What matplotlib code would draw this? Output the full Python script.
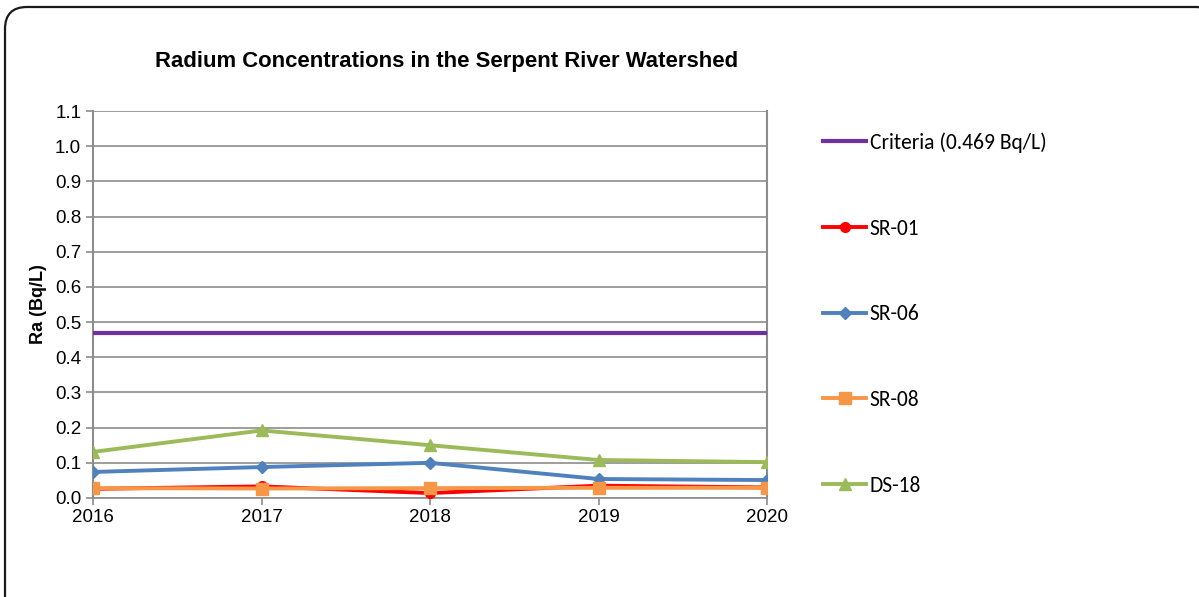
import numpy as np
import matplotlib.pyplot as plt
from matplotlib.patches import FancyBboxPatch

years = [2016, 2017, 2018, 2019, 2020]
criteria = 0.469
sr01 = [0.026, 0.033, 0.014, 0.035, 0.030]
sr06 = [0.074, 0.088, 0.100, 0.054, 0.051]
sr08 = [0.028, 0.027, 0.028, 0.029, 0.029]
ds18 = [0.131, 0.192, 0.150, 0.108, 0.102]

plt.rcParams['font.family'] = ['Liberation Sans', 'DejaVu Sans']

fig = plt.figure(figsize=(11.99, 5.97), dpi=100)
W, H = 1199, 597

# rounded chart border, drawn in pixel coordinates
bg = fig.add_axes([0, 0, 1, 1])
bg.set_xlim(0, W)
bg.set_ylim(H, 0)
bg.axis('off')
bg.add_patch(FancyBboxPatch((5, 7), 1212, 620,
                            boxstyle='round,pad=0,rounding_size=22',
                            fill=False, edgecolor='#1a1a1a', linewidth=1.6))

ax = fig.add_axes([93 / W, 1 - 498 / H, (767 - 93) / W, (498 - 111) / H])

x = np.arange(len(years))
lw = 2.8
ax.plot([x[0], x[-1]], [criteria, criteria], color='#7030A0', lw=3, label='Criteria (0.469 Bq/L)', zorder=3)
ax.plot(x, sr01, color='#FF0000', lw=lw, marker='o', ms=7, label='SR-01', zorder=3)
ax.plot(x, sr06, color='#4F81BD', lw=lw, marker='D', ms=6, label='SR-06', zorder=4)
ax.plot(x, sr08, color='#F79646', lw=lw, marker='s', ms=8, label='SR-08', zorder=5)
ax.plot(x, ds18, color='#9BBB59', lw=lw, marker='^', ms=8, label='DS-18', zorder=6)

ax.set_xlim(x[0], x[-1])
ax.set_ylim(0, 1.1)
ax.set_yticks(np.arange(0, 1.11, 0.1))
ax.set_yticklabels(['%.1f' % v for v in np.arange(0, 1.11, 0.1)], fontsize=13.5)
ax.set_xticks(x)
ax.set_xticklabels([str(y) for y in years], fontsize=13.5)
ax.grid(axis='y', color='#8c8c8c', lw=1.2)
ax.set_axisbelow(True)
for s in ['left', 'right']:
    ax.spines[s].set_color('#8c8c8c')
    ax.spines[s].set_linewidth(1.5)
ax.spines['top'].set_visible(False)
ax.spines['bottom'].set_color('#8c8c8c')
ax.spines['bottom'].set_linewidth(1.2)
ax.tick_params(axis='both', colors='#8c8c8c', labelcolor='black', length=5, width=1.2)
ax.tick_params(axis='x', pad=3)

ax.set_ylabel('Ra (Bq/L)', fontsize=13, fontweight='bold', labelpad=6)
fig.text(447 / W, 1 - 62 / H, 'Radium Concentrations in the Serpent River Watershed',
         ha='center', va='center', fontsize=15.9, fontweight='bold')

leg = fig.legend(loc='upper left', bbox_to_anchor=(804 / W, 1 - 113 / H),
                 frameon=False, prop={'family': ['Carlito', 'Lato', 'DejaVu Sans'], 'size': 15.5},
                 labelspacing=3.05, handlelength=2.0, handletextpad=0.15)

fig.savefig('out.png', dpi=100)
